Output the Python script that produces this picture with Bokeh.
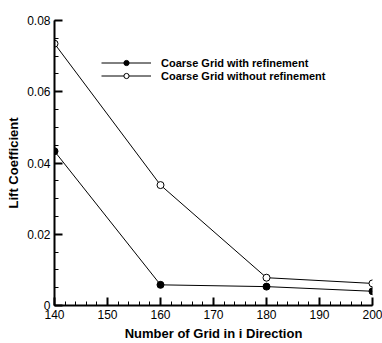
from bokeh.plotting import figure
from bokeh.models import SingleIntervalTicker, CustomJSTickFormatter, Range1d, Legend, LegendItem
from bokeh.embed import file_html
from bokeh.resources import INLINE

# Grid sizes in the i direction
grid_i = [140, 160, 180, 200]
# Lift coefficient for each refinement strategy
cl_with_refinement = [0.0433, 0.0058, 0.0053, 0.0040]
cl_without_refinement = [0.0735, 0.0338, 0.0078, 0.0062]

FONT = "Liberation Sans"

p = figure(width=382, height=343, output_backend="svg", toolbar_location=None,
           x_range=Range1d(140, 200), y_range=Range1d(0, 0.08),
           min_border_left=54, min_border_right=10, min_border_top=20, min_border_bottom=35)
p.outline_line_color = None
p.xgrid.visible = False
p.ygrid.visible = False
p.background_fill_color = "white"
p.border_fill_color = "white"

l1 = p.line(grid_i, cl_with_refinement, line_color="black", line_width=1)
m1 = p.scatter(grid_i, cl_with_refinement, size=7, fill_color="black", line_color="black")
l2 = p.line(grid_i, cl_without_refinement, line_color="black", line_width=1)
m2 = p.scatter(grid_i, cl_without_refinement, size=7, fill_color="white", line_color="black")

for ax in (p.xaxis[0], p.yaxis[0]):
    ax.axis_line_width = 2
    ax.axis_line_color = "black"
    ax.major_tick_in = 8
    ax.major_tick_out = 0
    ax.minor_tick_in = 4
    ax.minor_tick_out = 0
    ax.major_tick_line_width = 2
    ax.minor_tick_line_width = 1
    ax.major_label_text_font = FONT
    ax.major_label_text_font_size = "12px"
    ax.major_label_text_color = "black"
    ax.axis_label_text_font = FONT
    ax.axis_label_text_font_size = "13px"
    ax.axis_label_text_font_style = "bold"
    ax.axis_label_text_color = "black"

p.xaxis.ticker = SingleIntervalTicker(interval=10, num_minor_ticks=5)
p.yaxis.ticker = SingleIntervalTicker(interval=0.02, num_minor_ticks=4)
p.yaxis.formatter = CustomJSTickFormatter(code="return Math.abs(tick) < 1e-9 ? '0' : tick.toFixed(2);")
p.xaxis.axis_label = "Number of Grid in i Direction"
p.yaxis.axis_label = "Lift Coefficient"
p.xaxis.major_label_standoff = 4
p.yaxis.major_label_standoff = 4
p.xaxis.axis_label_standoff = 4
p.yaxis.axis_label_standoff = 3

legend = Legend(items=[
    LegendItem(label="Coarse Grid with refinement", renderers=[l1, m1]),
    LegendItem(label="Coarse Grid without refinement", renderers=[l2, m2]),
], location=(47, 223))
legend.padding = 0
legend.margin = 0
legend.spacing = 0
legend.glyph_width = 50
legend.glyph_height = 13
legend.label_height = 13
legend.label_standoff = 10
legend.border_line_color = None
legend.background_fill_alpha = 0
legend.label_text_font = FONT
legend.label_text_font_size = "11px"
legend.label_text_font_style = "bold"
legend.label_text_color = "black"
p.add_layout(legend, "center")

open("out.html", "w").write(file_html(p, INLINE))
